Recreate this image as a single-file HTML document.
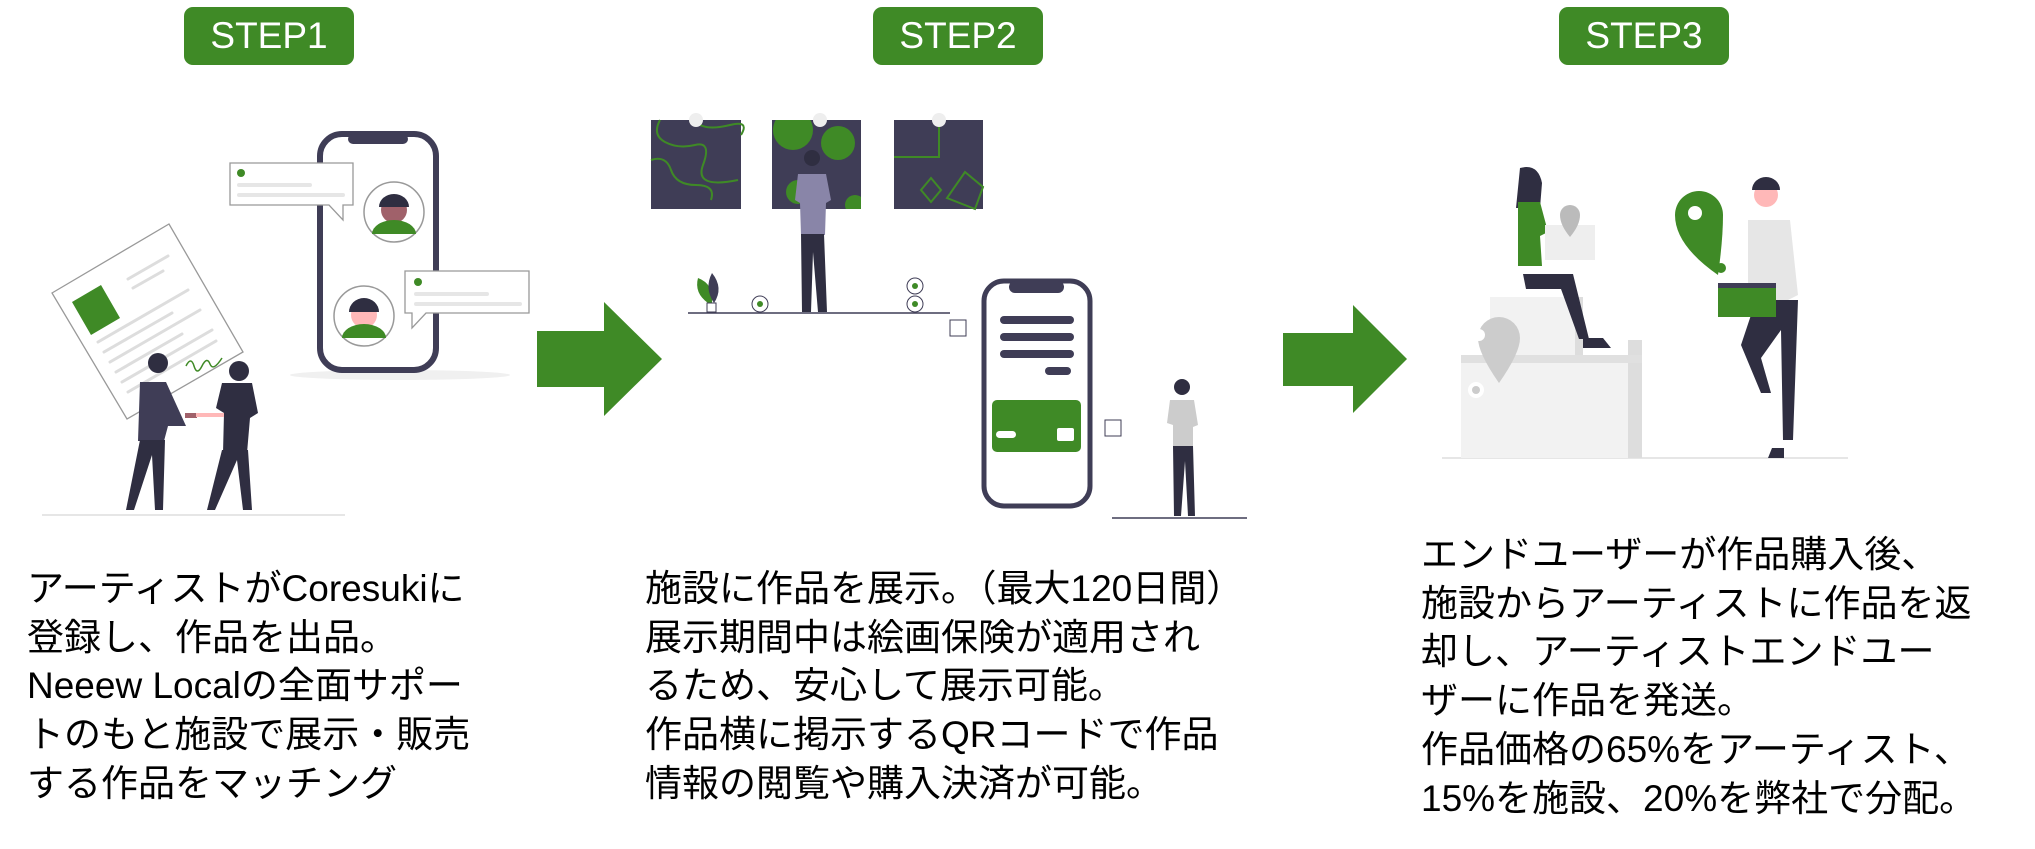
<!DOCTYPE html>
<html><head><meta charset="utf-8"><style>
html,body{margin:0;padding:0;background:#fff;}
body{width:2035px;height:849px;position:relative;overflow:hidden;font-family:"Liberation Sans","Noto Sans CJK JP",sans-serif;}
.step{position:absolute;top:7px;width:170px;height:58px;background:#3f8a26;border-radius:9px;color:#fff;font-size:37px;line-height:58px;text-align:center;}
.txt{position:absolute;font-size:37px;line-height:48.7px;color:#000;white-space:nowrap;}
svg{position:absolute;left:0;top:0;}
</style></head><body>
<svg width="2035" height="849" viewBox="0 0 2035 849">
<defs><clipPath id="p2"><rect x="772" y="120" width="89" height="89"/></clipPath></defs>
<!-- arrows -->
<polygon points="537,331 604,331 604,302 662,359 604,416 604,387 537,387" fill="#3f8a26"/>
<polygon points="1283,333 1353,333 1353,305 1407,359 1353,413 1353,386 1283,386" fill="#3f8a26"/>

<!-- STEP1 illustration -->
<line x1="42" y1="515" x2="345" y2="515" stroke="#ddd" stroke-width="1.5"/>
<ellipse cx="400" cy="375" rx="110" ry="5" fill="#f0f0f0"/>
<rect x="320" y="134" width="116" height="236" rx="22" fill="#fff" stroke="#3f3d56" stroke-width="6"/>
<rect x="348" y="134" width="60" height="10" rx="5" fill="#3f3d56"/>
<circle cx="394" cy="212" r="30" fill="#fff" stroke="#999" stroke-width="1.5"/>
<circle cx="394" cy="210" r="13" fill="#a0616a"/><path d="M379,207 a15,13 0 0 1 30,0 z" fill="#2f2e41"/>
<path d="M372,234 a22,14 0 0 1 44,0 z" fill="#3f8a26"/>
<circle cx="364" cy="316" r="30" fill="#fff" stroke="#999" stroke-width="1.5"/>
<circle cx="364" cy="315" r="13" fill="#ffb8b8"/><path d="M349,312 a15,14 0 0 1 30,0 z" fill="#2f2e41"/>
<path d="M342,338 a22,14 0 0 1 44,0 z" fill="#3f8a26"/>
<path d="M230,163 h123 v42 h-10 v15 l-14,-15 h-99 z" fill="#fff" stroke="#999" stroke-width="1.3"/>
<circle cx="241" cy="173" r="4" fill="#3f8a26"/>
<rect x="237" y="183" width="75" height="4" rx="2" fill="#e6e6e6"/><rect x="237" y="193" width="108" height="4" rx="2" fill="#e6e6e6"/>
<path d="M405,271 h124 v42 h-103 l-14,15 v-15 h-7 z" fill="#fff" stroke="#999" stroke-width="1.3"/>
<circle cx="418" cy="282" r="4" fill="#3f8a26"/>
<rect x="414" y="292" width="75" height="4" rx="2" fill="#e6e6e6"/><rect x="414" y="302" width="108" height="4" rx="2" fill="#e6e6e6"/>
<polygon points="52,293 169,224 243,352 127,419" fill="#fff" stroke="#999" stroke-width="1.3"/>
<polygon points="72,302 101,285 120,318 91,335" fill="#3f8a26"/>
<g stroke="#ddd" stroke-width="3" stroke-linecap="round">
<line x1="128" y1="279" x2="168" y2="256"/><line x1="133" y1="288" x2="163" y2="271"/>
<line x1="98" y1="342" x2="188" y2="290"/><line x1="104" y1="352" x2="172" y2="313"/>
<line x1="110" y1="362" x2="200" y2="310"/><line x1="116" y1="372" x2="182" y2="334"/>
<line x1="122" y1="382" x2="212" y2="330"/><line x1="128" y1="392" x2="216" y2="341"/>
</g>
<path d="M186,366 q5,-10 8,0 t8,0 t8,-2 t12,-6" fill="none" stroke="#3f8a26" stroke-width="1.5"/>
<circle cx="158" cy="363" r="10" fill="#2f2e41"/>
<path d="M140,382 h26 l20,44 h-18 l-4,15 h-26 z" fill="#3f3d56"/>
<path d="M140,440 h25 l-2,70 h-8 l-3,-55 l-18,55 h-8 z" fill="#2f2e41"/>
<rect x="185" y="413" width="12" height="5" fill="#a0616a"/>
<circle cx="239" cy="371" r="10" fill="#2f2e41"/>
<path d="M222,383 h30 l6,30 l-8,5 l-3,35 h-24 l1,-40 l-8,-5 z" fill="#2f2e41"/>
<path d="M222,450 h26 l4,60 h-9 l-6,-50 l-22,50 h-8 z" fill="#2f2e41"/>
<rect x="196" y="413" width="28" height="4" fill="#ffb8b8"/>

<!-- STEP2 illustration -->
<rect x="651" y="120" width="90" height="89" fill="#3f3d56"/>
<rect x="772" y="120" width="89" height="89" fill="#3f3d56"/>
<rect x="894" y="120" width="89" height="89" fill="#3f3d56"/>
<g fill="none" stroke="#3f8a26" stroke-width="2">
<path d="M660,120 q-8,15 5,22 t30,3 t8,20 t35,15"/><path d="M651,160 q15,-5 20,10 t25,15 t15,15"/><path d="M700,125 q10,5 30,0 t11,10"/>
<polyline points="894,157 939,157 939,127"/><polygon points="931,178 941,190 931,202 921,190"/><polygon points="965,172 983,187 975,209 947,198"/>
</g>
<g clip-path="url(#p2)">
<circle cx="793" cy="130" r="20" fill="#3f8a26"/><circle cx="838" cy="143" r="17" fill="#3f8a26"/><circle cx="798" cy="192" r="12" fill="#3f8a26"/><circle cx="855" cy="205" r="10" fill="#3f8a26"/>
</g>
<circle cx="696" cy="120" r="7" fill="#eee"/><circle cx="820" cy="120" r="7" fill="#eee"/><circle cx="939" cy="120" r="7" fill="#eee"/>
<line x1="688" y1="313" x2="950" y2="313" stroke="#3f3d56" stroke-width="1.5"/>
<circle cx="812" cy="158" r="8" fill="#2f2e41"/>
<path d="M798,174 h28 l5,26 l-5,3 l-1,32 h-24 l-1,-32 l-5,-3 z" fill="#8985a8"/>
<path d="M801,234 h23 l3,78 h-9 l-5,-60 l-2,60 h-9 z" fill="#2f2e41"/>
<path d="M708,303 q-14,-10 -10,-25 q16,6 14,25 z" fill="#3f8a26"/><path d="M714,303 q-10,-15 -2,-30 q12,15 2,30 z" fill="#3f3d56"/>
<rect x="707" y="303" width="9" height="9" fill="#fff" stroke="#3f3d56"/>
<circle cx="760" cy="304" r="8" fill="#fff" stroke="#3f3d56"/><circle cx="760" cy="304" r="3" fill="#3f8a26"/>
<circle cx="915" cy="286" r="8" fill="#fff" stroke="#3f3d56"/><circle cx="915" cy="286" r="3" fill="#3f8a26"/>
<circle cx="915" cy="304" r="8" fill="#fff" stroke="#3f3d56"/><circle cx="915" cy="304" r="3" fill="#3f8a26"/>
<rect x="950" y="320" width="16" height="16" fill="#fff" stroke="#3f3d56"/>
<rect x="984" y="281" width="106" height="225" rx="20" fill="#fff" stroke="#3f3d56" stroke-width="5"/>
<rect x="1009" y="281" width="55" height="12" rx="6" fill="#3f3d56"/>
<rect x="1000" y="316" width="74" height="8" rx="4" fill="#3f3d56"/><rect x="1000" y="333" width="74" height="8" rx="4" fill="#3f3d56"/>
<rect x="1000" y="350" width="74" height="8" rx="4" fill="#3f3d56"/><rect x="1045" y="367" width="26" height="8" rx="4" fill="#3f3d56"/>
<rect x="992" y="400" width="89" height="52" rx="5" fill="#3f8a26"/>
<rect x="996" y="431" width="20" height="7" rx="3.5" fill="#fff"/><rect x="1057" y="428" width="17" height="13" rx="2" fill="#fff"/>
<rect x="1105" y="420" width="16" height="16" fill="#fff" stroke="#3f3d56"/>
<line x1="1112" y1="518" x2="1247" y2="518" stroke="#3f3d56" stroke-width="1.5"/>
<circle cx="1182" cy="387" r="8" fill="#2f2e41"/>
<path d="M1170,400 h24 l4,25 l-5,2 v20 h-20 v-22 l-6,-2 z" fill="#ccc"/>
<path d="M1173,446 h20 l2,70 h-7 l-3,-55 l-4,55 h-7 z" fill="#2f2e41"/>

<!-- STEP3 illustration -->
<line x1="1442" y1="458" x2="1848" y2="458" stroke="#ddd" stroke-width="1.5"/>
<rect x="1461" y="363" width="181" height="95" fill="#f2f2f2"/><rect x="1628" y="340" width="14" height="118" fill="#ddd"/>
<rect x="1490" y="297" width="92" height="63" fill="#f2f2f2"/><rect x="1575" y="297" width="8" height="63" fill="#ddd"/>
<rect x="1461" y="355" width="181" height="8" fill="#e0e0e0"/>
<path d="M1478,338 a21,21 0 0 1 42,0 q0,15 -21,45 q-21,-30 -21,-45 z" fill="#ccc"/><circle cx="1479" cy="335" r="6" fill="#fff"/>
<circle cx="1476" cy="390" r="8" fill="#fff"/><circle cx="1476" cy="390" r="4" fill="#ccc"/>
<path d="M1520,168 q18,-5 22,15 l-2,25 h-24 z" fill="#2f2e41"/>
<path d="M1518,202 h22 l8,30 l-8,4 l2,30 h-24 z" fill="#3f8a26"/>
<path d="M1523,274 h50 l16,65 h-10 l-18,-50 h-35 z" fill="#2f2e41"/>
<rect x="1545" y="225" width="50" height="35" fill="#eee"/>
<path d="M1560,215 a10,10 0 0 1 20,0 q0,10 -10,22 q-10,-12 -10,-22 z" fill="#bbb"/>
<path d="M1583,338 h20 l8,10 h-28 z" fill="#2f2e41"/>
<path d="M1675,215 a24,24 0 0 1 48,0 q0,25 -5,60 q-43,-30 -43,-60 z" fill="#3f8a26"/><circle cx="1695" cy="213" r="7" fill="#fff"/><circle cx="1721" cy="268" r="5" fill="#3f8a26"/>
<circle cx="1766" cy="195" r="12" fill="#ffb8b8"/><path d="M1752,190 a14,13 0 0 1 28,0 z" fill="#2f2e41"/>
<path d="M1748,220 h42 l8,75 l-10,5 h-40 z" fill="#e6e6e6"/>
<path d="M1756,300 h42 l-5,140 h-10 l-2,-110 l-20,28 l10,35 h-10 l-20,-48 z" fill="#2f2e41"/>
<rect x="1718" y="283" width="58" height="34" fill="#3f8a26"/><rect x="1718" y="283" width="58" height="5" fill="#3f3d56"/>
<path d="M1772,448 h12 v10 h-16 z" fill="#2f2e41"/>
</svg>

<div class="step" style="left:184px;">STEP1</div>
<div class="step" style="left:873px;">STEP2</div>
<div class="step" style="left:1559px;">STEP3</div>

<div class="txt" style="left:27px;top:565px;">アーティストがCoresukiに<br>登録し、作品を出品。<br>Neeew Localの全面サポー<br>トのもと施設で展示・販売<br>する作品をマッチング</div>
<div class="txt" style="left:645px;top:565px;">施設に作品を展示。（最大120日間）<br>展示期間中は絵画保険が適用され<br>るため、安心して展示可能。<br>作品横に掲示するQRコードで作品<br>情報の閲覧や購入決済が可能。</div>
<div class="txt" style="left:1421px;top:531px;">エンドユーザーが作品購入後、<br>施設からアーティストに作品を返<br>却し、アーティストエンドユー<br>ザーに作品を発送。<br>作品価格の65%をアーティスト、<br>15%を施設、20%を弊社で分配。</div>
</body></html>
